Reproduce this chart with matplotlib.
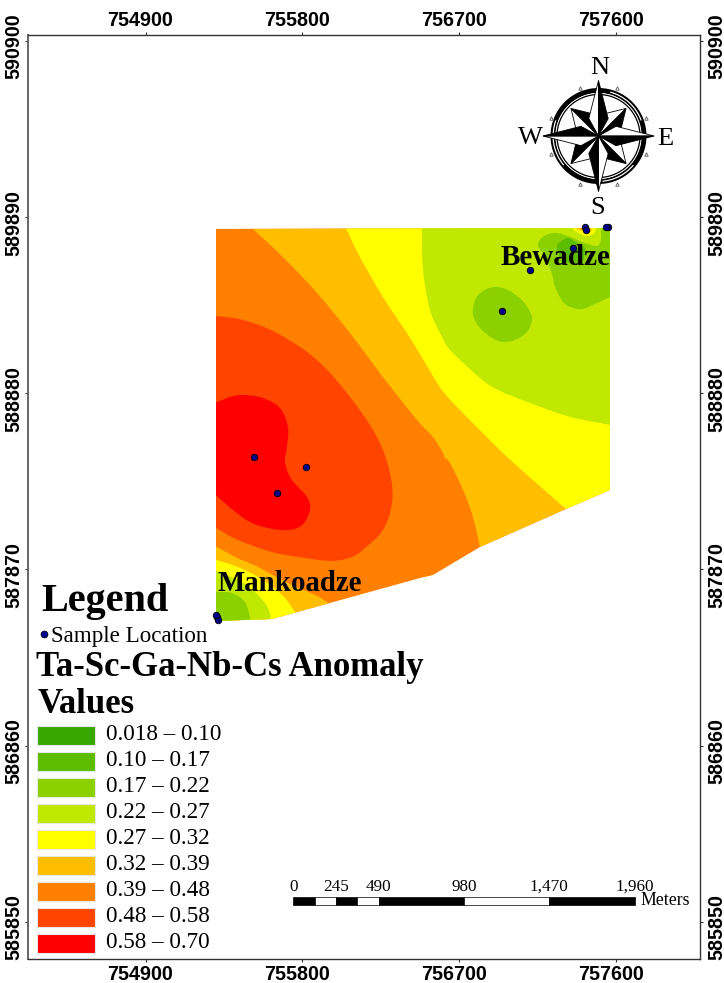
import numpy as np
import matplotlib
matplotlib.use('Agg')
import matplotlib.pyplot as plt
from matplotlib.path import Path
from matplotlib.patches import PathPatch, Polygon, Rectangle, Circle, Wedge
from matplotlib.transforms import Affine2D

#####################################################################
# map data, easting / northing in metres
x_ticks = [754900, 755800, 756700, 757600]
y_ticks = [585850, 586860, 587870, 588880, 589890, 590900]

outline_x = [755304, 757565, 757565, 757313, 756819, 756549, 756475, 755625, 755304]
outline_y = [589823, 589828, 588326, 588217, 587999, 587838, 587821, 587586, 587575]

# contour lines between the classes
amber_x = [755470, 755511, 755688, 755884, 756073, 756262, 756458, 756549, 756607, 756618, 756647, 756722, 756779, 756819]
amber_y = [589874, 589828, 589662, 589456, 589226, 588974, 588727, 588630, 588538, 588509, 588481, 588326, 588171, 587999]
yellow_x = [756021, 756050, 756130, 756262, 756400, 756498, 756601, 756722, 756951, 757123, 757313, 757365]
yellow_y = [589886, 589828, 589662, 589433, 589226, 589066, 588899, 588767, 588538, 588383, 588217, 588171]
lime_x = [756486, 756486, 756492, 756532, 756590, 756647, 756819, 756923, 757106, 757336, 757565, 757634]
lime_y = [589897, 589828, 589588, 589358, 589226, 589129, 588968, 588899, 588825, 588745, 588699, 588681]

blob_x = [756905, 756980, 757060, 757106, 757118, 757089, 757020, 756951, 756888, 756819, 756779, 756791, 756836]
blob_y = [589490, 589473, 589415, 589347, 589301, 589232, 589186, 589175, 589198, 589255, 589329, 589415, 589467]

green_x = [757508, 757514, 757491, 757422, 757336, 757255, 757187, 757152, 757198, 757221, 757238, 757250, 757296, 757353, 757410, 757491, 757577]
green_y = [589897, 589771, 589725, 589742, 589777, 589800, 589782, 589731, 589656, 589599, 589542, 589490, 589404, 589370, 589364, 589398, 589438]
dark_x = [757261, 757278, 757324, 757365, 757416, 757422, 757405, 757365, 757319, 757278]
dark_y = [589719, 589748, 589771, 589748, 589719, 589685, 589633, 589628, 589633, 589662]

spot_yellow_x = [757324, 757347, 757382, 757439, 757474, 757485, 757502]
spot_yellow_y = [589874, 589828, 589800, 589782, 589800, 589828, 589874]
spot_amber_x = [757353, 757370, 757405, 757451, 757462, 757479]
spot_amber_y = [589874, 589828, 589811, 589805, 589828, 589874]
spot_orange_x = [757376, 757393, 757422, 757445, 757468]
spot_orange_y = [589874, 589828, 589817, 589828, 589874]

high_x = [755241, 755304, 755459, 755654, 755884, 756073, 756228, 756303, 756314, 756262, 756159, 756085, 755970, 755815, 755625, 755430, 755304, 755241]
high_y = [589329, 589324, 589301, 589226, 589071, 588859, 588630, 588423, 588251, 588096, 587993, 587942, 587919, 587936, 587970, 588039, 588108, 588142]
top_x = [755241, 755310, 755384, 755459, 755574, 755671, 755717, 755711, 755700, 755740, 755826, 755843, 755798, 755717, 755602, 755499, 755401, 755310, 755241]
top_y = [588813, 588831, 588859, 588871, 588853, 588796, 588687, 588572, 588481, 588383, 588286, 588211, 588125, 588096, 588108, 588142, 588211, 588291, 588349]

low_amber_x = [755241, 755310, 755413, 755545, 755717, 755872, 755941, 756016]
low_amber_y = [588033, 587999, 587942, 587884, 587792, 587724, 587683, 587626]
low_yellow_x = [755241, 755310, 755430, 755556, 755683, 755757, 755803]
low_yellow_y = [587947, 587924, 587884, 587821, 587724, 587626, 587552]
low_lime_x = [755241, 755310, 755453, 755545, 755602, 755625]
low_lime_y = [587878, 587861, 587798, 587724, 587649, 587552]
low_green_x = [755241, 755310, 755396, 755470, 755499, 755505]
low_green_y = [587747, 587741, 587735, 587683, 587592, 587523]

sample_x = [755522, 755820, 755654, 756943, 757106, 757353, 757422, 757428, 757554, 757543, 755310, 755315, 755304]
sample_y = [588515, 588458, 588309, 589352, 589588, 589714, 589834, 589817, 589834, 589834, 587597, 587580, 587609]

class_labels = ['0.018 \u2013 0.10', '0.10 \u2013 0.17', '0.17 \u2013 0.22', '0.22 \u2013 0.27', '0.27 \u2013 0.32',
                '0.32 \u2013 0.39', '0.39 \u2013 0.48', '0.48 \u2013 0.58', '0.58 \u2013 0.70']
class_colors = ['#38a800', '#5cbd00', '#8bd100', '#c0e800', '#ffff00', '#ffbf00', '#ff8000', '#ff4400', '#ff0000']

scale_stops = [0, 122.5, 245, 367.5, 490, 980, 1470, 1960]
scale_ticks = [0, 245, 490, 980, 1470, 1960]
scale_labels = ['0', '245', '490', '980', '1,470', '1,960']

serif = 'Liberation Serif'
c_dgreen, c_mgreen, c_green, c_lime, c_yellow, c_amber, c_orange, c_high, c_red = class_colors


#####################################################################
def smooth_verts(xs, ys, closed=False):
    # path through the traced points, bezier segments
    pts = np.column_stack([xs, ys]).astype(float)
    n = len(pts)
    verts = [pts[0]]
    codes = [Path.MOVETO]
    for i in range(n if closed else n - 1):
        if closed:
            p0, p1, p2, p3 = pts[(i - 1) % n], pts[i], pts[(i + 1) % n], pts[(i + 2) % n]
        else:
            p0, p1, p2, p3 = pts[max(i - 1, 0)], pts[i], pts[i + 1], pts[min(i + 2, n - 1)]
        verts += [p1 + (p2 - p0) / 6, p2 - (p3 - p1) / 6, p2]
        codes += [Path.CURVE4] * 3
    return verts, codes


def add_band(ax, clip, xs, ys, color, corners=None, closed=False):
    verts, codes = smooth_verts(xs, ys, closed)
    for c in (corners or []):
        verts.append(np.array(c, dtype=float))
        codes.append(Path.LINETO)
    verts.append(verts[0])
    codes.append(Path.CLOSEPOLY)
    patch = PathPatch(Path(verts, codes), facecolor=color, edgecolor='none', zorder=2)
    ax.add_patch(patch)
    patch.set_clip_path(clip)


def draw_compass(ax, px, cx=598.5, cy=136):
    # decoration, pixel positions
    ax.add_patch(Wedge((cx, cy), 48, 0, 360, width=5, fc='black', ec='none', transform=px, clip_on=False, zorder=5))
    for a0, a1 in [(285, 340), (40, 85), (140, 200)]:
        ax.add_patch(Wedge((cx, cy), 46, a0, a1, width=1.2, fc='white', ec='none', transform=px, clip_on=False, zorder=6))
    ax.add_patch(Wedge((cx, cy), 43, 0, 360, width=1.4, fc='white', ec='none', transform=px, clip_on=False, zorder=6))
    ax.add_patch(Circle((cx, cy), 41.5, fc='white', ec='black', lw=0.9, transform=px, clip_on=False, zorder=6))
    for a in [21, 69, 111, 159, 201, 249, 291, 339]:
        r = np.radians(a)
        ax.plot(cx + 51 * np.sin(r), cy - 51 * np.cos(r), marker='^', ms=2.5, mfc='white', mec='#555555', mew=0.6,
                transform=px, clip_on=False, zorder=6)
    for angles, tip, waist, half in [(range(45, 360, 90), 39, 24, 26), (range(0, 360, 90), 55.5, 20, 29)]:
        for a in angles:
            t = np.radians(a)
            l = np.radians(a - half)
            r = np.radians(a + half)
            tp = (cx + tip * np.sin(t), cy - tip * np.cos(t))
            lp = (cx + waist * np.sin(l), cy - waist * np.cos(l))
            rp = (cx + waist * np.sin(r), cy - waist * np.cos(r))
            ax.add_patch(Polygon([(cx, cy), tp, lp], fc='white', ec='black', lw=0.6, transform=px, clip_on=False, zorder=7))
            ax.add_patch(Polygon([(cx, cy), tp, rp], fc='black', ec='black', lw=0.6, transform=px, clip_on=False, zorder=7))
    for letter, lx, ly in [('N', 600, 74), ('S', 598, 214), ('W', 530, 144), ('E', 665, 145)]:
        ax.text(lx, ly, letter, transform=px, family=serif, fontsize=19, ha='center', va='baseline', zorder=8)


def main():
    fig = plt.figure(figsize=(7.24, 9.83), dpi=100)
    ax = fig.add_axes([28 / 724, 1 - 958.7 / 983, 671.5 / 724, 923.7 / 983])
    # pixel frame of the figure for the furniture
    px = Affine2D().scale(1 / 724, -1 / 983).translate(0, 1) + fig.transFigure

    ax.set_xlim(754225, 758079)
    ax.set_ylim(585638, 590935)

    clip = Polygon(np.column_stack([outline_x, outline_y]), closed=True, facecolor=c_orange, edgecolor='none', zorder=1)
    ax.add_patch(clip)

    top = 589950
    east = 757700
    add_band(ax, clip, amber_x, amber_y, c_amber, [(756819, 587900), (east, 587900), (east, top), (amber_x[0], top)])
    add_band(ax, clip, yellow_x, yellow_y, c_yellow, [(east, yellow_y[-1]), (east, top), (yellow_x[0], top)])
    add_band(ax, clip, lime_x, lime_y, c_lime, [(east, lime_y[-1]), (east, top), (lime_x[0], top)])
    add_band(ax, clip, blob_x, blob_y, c_green, closed=True)
    add_band(ax, clip, green_x, green_y, c_green, [(east, green_y[-1]), (east, green_y[0])])
    add_band(ax, clip, dark_x, dark_y, c_mgreen, closed=True)
    add_band(ax, clip, spot_yellow_x, spot_yellow_y, c_yellow)
    add_band(ax, clip, spot_amber_x, spot_amber_y, c_amber)
    add_band(ax, clip, spot_orange_x, spot_orange_y, c_orange)
    add_band(ax, clip, high_x, high_y, c_high)
    add_band(ax, clip, top_x, top_y, c_red)
    add_band(ax, clip, low_amber_x, low_amber_y, c_amber, [(low_amber_x[-1], 587400), (low_amber_x[0], 587400)])
    add_band(ax, clip, low_yellow_x, low_yellow_y, c_yellow, [(low_yellow_x[-1], 587400), (low_yellow_x[0], 587400)])
    add_band(ax, clip, low_lime_x, low_lime_y, c_lime, [(low_lime_x[-1], 587400), (low_lime_x[0], 587400)])
    add_band(ax, clip, low_green_x, low_green_y, c_green, [(low_green_x[-1], 587400), (low_green_x[0], 587400)])

    ax.scatter(sample_x, sample_y, s=22, c='#00008b', edgecolors='black', linewidths=0.6, zorder=4, clip_on=False)

    # axes
    ax.set_xticks(x_ticks)
    ax.set_yticks(y_ticks)
    ax.set_xticklabels([str(v) for v in x_ticks])
    ax.set_yticklabels([str(v) for v in y_ticks])
    ax.tick_params(axis='both', top=True, right=True, labeltop=True, labelright=True, length=2.5, width=0.8,
                   color='#333333', labelsize=14.2, labelfontfamily='Liberation Sans', pad=3)
    bottom_shift = Affine2D().translate(-5.5, 1)
    top_shift = Affine2D().translate(-5.5, -2.5)
    left_shift = Affine2D().translate(3, -5.5)
    right_shift = Affine2D().translate(0, -5.5)
    for tick in ax.xaxis.get_major_ticks():
        tick.label1.set_transform(tick.label1.get_transform() + bottom_shift)
        tick.label2.set_transform(tick.label2.get_transform() + top_shift)
        tick.label1.set_fontweight('bold')
        tick.label2.set_fontweight('bold')
    for tick in ax.yaxis.get_major_ticks():
        tick.label1.set_transform(tick.label1.get_transform() + left_shift)
        tick.label2.set_transform(tick.label2.get_transform() + right_shift)
        tick.label1.set_fontweight('bold')
        tick.label2.set_fontweight('bold')
        tick.label1.set_rotation(90)
        tick.label2.set_rotation(90)
        tick.label1.set_verticalalignment('center')
        tick.label2.set_verticalalignment('center')
    for s in ax.spines.values():
        s.set_linewidth(1.0)
        s.set_color('#333333')
    ax.spines['left'].set_color('#666666')
    ax.spines['left'].set_linewidth(1.4)

    # place names
    ax.text(501, 265, 'Bewadze', transform=px, family=serif, weight='bold', fontsize=21, zorder=6)
    ax.text(217, 591, 'Mankoadze', transform=px, family=serif, weight='bold', fontsize=20.8, zorder=6)

    # legend
    ax.text(41, 611, 'Legend', transform=px, family=serif, weight='bold', fontsize=29, zorder=6)
    ax.plot(44, 634, marker='o', ms=5, mfc='#00008b', mec='black', mew=0.5, transform=px, clip_on=False, zorder=6)
    ax.text(51, 642, 'Sample Location', transform=px, family=serif, fontsize=16.6, zorder=6)
    ax.text(36, 676, 'Ta-Sc-Ga-Nb-Cs Anomaly', transform=px, family=serif, weight='bold', fontsize=25, zorder=6)
    ax.text(38, 713, 'Values', transform=px, family=serif, weight='bold', fontsize=25, zorder=6)
    for i, (lab, col) in enumerate(zip(class_labels, class_colors)):
        ax.add_patch(Rectangle((37, 725.5 + 26 * i), 58, 19.5, fc=col, ec='#e6e6e6', lw=0.8, transform=px, clip_on=False, zorder=6))
        ax.text(106, 740 + 26 * i, lab, transform=px, family=serif, fontsize=16.7, zorder=6)

    # scale bar, in metres from its left end
    bar_x = 755747
    bar_y = 585946
    bar_h = 44
    for i in range(len(scale_stops) - 1):
        col = 'black' if i % 2 == 0 else 'white'
        ax.add_patch(Rectangle((bar_x + scale_stops[i], bar_y), scale_stops[i + 1] - scale_stops[i], bar_h,
                               fc=col, ec='black', lw=0.5, zorder=5))
    for v, lab in zip(scale_ticks, scale_labels):
        ax.text(bar_x + v, bar_y + 82, lab, family=serif, fontsize=12.3, ha='center', va='baseline', zorder=5)
    ax.text(640, 905, 'Meters', transform=px, family=serif, fontsize=12.8, zorder=5)

    draw_compass(ax, px)

    plt.savefig('out.png', dpi=100)
    plt.close()


if __name__ == '__main__':
    main()
